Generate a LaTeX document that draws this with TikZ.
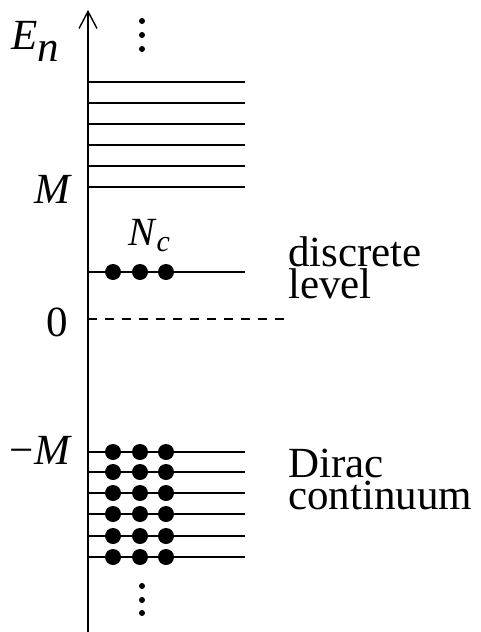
\documentclass[tikz,border=0pt]{standalone}
\usepackage{fontspec}
\setmainfont{Liberation Serif}
\usetikzlibrary{arrows.meta}
\begin{document}
\begin{tikzpicture}[x=1pt,y=-1pt,
  lvl/.style={line width=1.6pt},
  bigdot/.style={fill=black,draw=none},
  lab/.style={inner sep=0pt,font=\fontsize{43}{32}\selectfont},
  side/.style={inner sep=0pt,anchor=base west,align=left,font=\fontsize{43}{32}\selectfont}]
\useasboundingbox (0,0) rectangle (481,632);
% axis
\coordinate (axb) at (88,632);
\coordinate (axt) at (88,10);
\draw[line width=1.6pt,-{Straight Barb[length=17pt,width=18pt,line width=1.4pt]}] (axb) -- (axt);
% upper levels
\foreach \y in {82,103,124,145,166,187} \draw[lvl] (88,\y) -- (245,\y);
% discrete level
\draw[lvl] (88,272) -- (245,272);
\foreach \x in {113,140,166} \fill[bigdot] (\x,272) circle (8);
% zero
\draw[lvl,dash pattern=on 9pt off 8pt] (88,319) -- (290,319);
% lower levels
\foreach \y in {452,472,493,514,536,557} {
  \draw[lvl] (88,\y) -- (245,\y);
  \foreach \x in {113,140,166} \fill[bigdot] (\x,\y) circle (8);
}
% vertical ellipses
\foreach \y in {21,35,49,586,600,613} \fill (142,\y) circle (3);
% labels
\node[lab,anchor=base west] (en) at (11,49) {\textit{E}\raisebox{-12pt}{\textit{n}}};
\node[lab,anchor=base east] (m) at (72,203) {\textit{M}};
\node[lab,anchor=base east] (z) at (68,336) {0};
\node[lab,anchor=base east] (mm) at (72,464) {−\textit{M}};
\node[lab,anchor=base west] (nc) at (128,245) {\fontsize{40}{40}\selectfont\textit{N}\raisebox{-6pt}{\fontsize{30}{30}\selectfont\textit{c}}};
\node[side] (disc) at (288,298) {discrete\\level};
\node[side] (dirac) at (288,509) {Dirac\\continuum};
\end{tikzpicture}
\end{document}
